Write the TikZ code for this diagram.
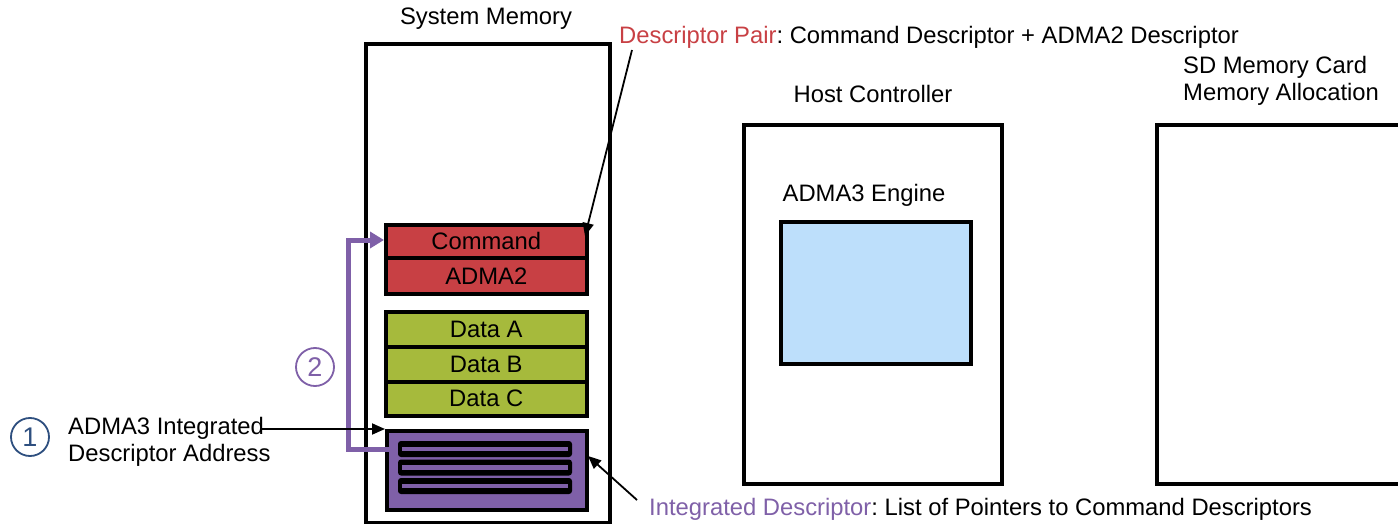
\documentclass[tikz,border=0pt]{standalone}
\usepackage{fontspec}
\setmainfont{Liberation Sans}
\usetikzlibrary{arrows.meta,calc}
\definecolor{cmdred}{HTML}{C84044}
\definecolor{dataolive}{HTML}{A6BA3C}
\definecolor{intpurple}{HTML}{7F60A8}
\definecolor{engblue}{HTML}{BDDFFB}
\definecolor{stepblue}{HTML}{2E4F7F}
\frenchspacing
\tikzset{
  x=1pt, y=-1pt,
  lbl/.style={font=\fontsize{23.8}{27}\selectfont, inner sep=0pt},
  region/.style={draw, line width=4pt, minimum width=0pt},
  cell/.style={draw, line width=3.5pt, inner sep=0pt, anchor=north west,
    font=\fontsize{23.8}{27}\selectfont},
  bar/.style={fill=black, rounded corners=3pt},
  callout/.style={line width=1.8pt, -{Triangle[length=13pt,width=11pt]}},
  stepmark/.style={circle, line width=1.8pt, minimum size=38pt, inner sep=0pt,
    font=\fontsize{27}{30}\selectfont}
}
\begin{document}
\begin{tikzpicture}
\useasboundingbox (0,0) rectangle (1398,524);
\clip (0,0) rectangle (1398,524);

% System memory column
\node[region, minimum width=244pt, minimum height=479pt, anchor=north west] (sysmem) at (364,42) {};
\node[lbl] (sysmemt) at (486,19) {System Memory};

% Descriptor pair
\node[cell, fill=cmdred, minimum width=201pt, minimum height=33pt] (cmd) at (384,223) {Command};
\node[cell, fill=cmdred, minimum width=201pt, minimum height=36pt] (adma2) at (384,256) {ADMA2};

% Data blocks
\node[cell, fill=dataolive, minimum width=201pt, minimum height=35pt] (dataa) at (384,310) {Data A};
\node[cell, fill=dataolive, minimum width=201pt, minimum height=35pt] (datab) at (384,345) {Data B};
\node[cell, fill=dataolive, minimum width=201pt, minimum height=34pt] (datac) at (384,380) {Data C};

% Integrated descriptor
\node[cell, fill=intpurple, minimum width=200pt, minimum height=79pt] (intdesc) at (385,429) {};
\foreach \yy/\nm in {441/pa, 459.5/pb, 478/pc}{
  \fill[bar] (398,\yy) rectangle (572,\yy+16);
  \draw[intpurple, line width=4.5pt] (402,\yy+8) -- (568,\yy+8);
  \coordinate (\nm) at (398,\yy+8);
}

% Step 2: pointer to the command descriptor
\coordinate (pbend1) at (348,449);
\coordinate (pbend2) at (348,240);
\draw[intpurple, line width=5pt, -{Triangle[length=14pt,width=16pt]}]
  (pa) -- (pbend1) -- (pbend2) -- (cmd.west |- pbend2);
\node[stepmark, draw=intpurple, text=intpurple] (s2) at (315,367) {2};

% Step 1: integrated descriptor address
\node[stepmark, draw=stepblue, text=stepblue] (s1) at (30,437) {1};
\node[lbl, anchor=north west, align=left] (addr) at (68,417)
  {ADMA3 Integrated\\Descriptor Address};
\coordinate (addrend) at (262,429);
\draw[callout] (addrend) -- (intdesc.west |- addrend);

% Callout labels
\node[lbl, anchor=west] (pairlbl) at (619,37)
  {\textcolor{cmdred}{Descriptor Pair}: Command Descriptor + ADMA2 Descriptor};
\coordinate (pairtail) at (632,50);
\draw[callout] (pairtail) -- (585,236);

\node[lbl, anchor=west] (intlbl) at (649,509)
  {\textcolor{intpurple}{Integrated Descriptor}: List of Pointers to Command Descriptors};
\coordinate (inttail) at (637,500);
\draw[callout] (inttail) -- (588,456);

% Host controller
\node[region, minimum width=258pt, minimum height=359pt, anchor=north west] (host) at (742,123) {};
\node[lbl] (hostt) at (873,94) {Host Controller};
\node[draw, line width=3.5pt, fill=engblue, minimum width=190pt, minimum height=142pt, anchor=north west] (eng) at (779,220) {};
\node[lbl] (engt) at (864,195) {ADMA3 Engine};

% SD memory card
\node[region, minimum width=280pt, minimum height=359pt, anchor=north west] (sd) at (1155,123) {};
\node[lbl, anchor=north west, align=left] (sdt) at (1183,56)
  {SD Memory Card\\Memory Allocation};
\end{tikzpicture}
\end{document}
